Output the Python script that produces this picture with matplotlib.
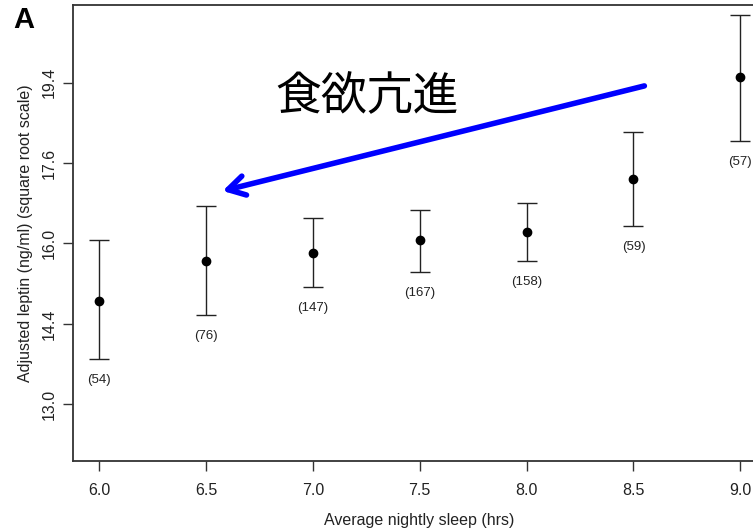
import numpy as np
import matplotlib
matplotlib.use('Agg')
import matplotlib.pyplot as plt

plt.rcParams['font.family'] = ['Liberation Sans', 'DejaVu Sans']

#---
# adjusted leptin by sleep duration (ng/ml)
#---
sleep = [6.0, 6.5, 7.0, 7.5, 8.0, 8.5, 9.0]
leptin = [14.88, 15.66, 15.82, 16.06, 16.23, 17.31, 19.48]
upper = [16.06, 16.76, 16.51, 16.67, 16.81, 18.30, 20.86]
lower = [13.78, 14.61, 15.15, 15.43, 15.65, 16.34, 18.11]
counts = [54, 76, 147, 167, 158, 59, 57]

ytick_vals = [12.96, 14.44, 16.0, 17.64, 19.36]   # 3.6 .. 4.4 on sqrt scale
ytick_labels = ['13.0', '14.4', '16.0', '17.6', '19.4']
xtick_vals = [6.0, 6.5, 7.0, 7.5, 8.0, 8.5, 9.0]

fig = plt.figure(figsize=(7.53, 5.32), dpi=100)
ax = fig.add_axes([73/753., 71/532., 693/753., 456/532.])

ax.set_yscale('function', functions=(np.sqrt, np.square))

lep = np.array(leptin)
err = [lep - np.array(lower), np.array(upper) - lep]
ax.errorbar(sleep, leptin, yerr=err, fmt='o', color='black', ms=6,
            ecolor='#222222', elinewidth=1.0, capsize=7.2, capthick=1.0)

for x, lo, n in zip(sleep, lower, counts):
    ax.annotate('(%d)' % n, xy=(x, lo), xytext=(0, -15),
                textcoords='offset points', ha='center', va='center',
                fontsize=9.5, color='#222222')

ax.set_xlim(5.878, 9.12)
ax.set_ylim(3.459**2, 4.593**2)

ax.set_xticks(xtick_vals)
ax.set_xticklabels(['%.1f' % v for v in xtick_vals], fontsize=11.5, color='#222222')
ax.set_yticks(ytick_vals)
ax.set_yticklabels(ytick_labels, fontsize=11.5, rotation=90, va='center', color='#222222')
ax.minorticks_off()
ax.tick_params(direction='out', length=7, width=1, color='#333333')
ax.tick_params(axis='x', pad=9)
ax.tick_params(axis='y', pad=5)

for s in ['left', 'bottom', 'top', 'right']:
    ax.spines[s].set_color('#333333')
    ax.spines[s].set_linewidth(1.3)

ax.set_xlabel('Average nightly sleep (hrs)', fontsize=11.5, color='#222222', labelpad=11)
ax.set_ylabel('Adjusted leptin (ng/ml) (square root scale)', fontsize=11.5,
              color='#222222', labelpad=6)

#---
# annotation: arrow and label
#---
ax.annotate('', xy=(6.578, 4.1306**2), xytext=(8.551, 4.3918**2),
            arrowprops=dict(arrowstyle='->,head_length=0.6,head_width=0.35',
                            color='#0000ff', lw=4, mutation_scale=20,
                            shrinkA=0, shrinkB=0))
ax.text(7.254, 4.365**2, '食欲亢進', fontsize=33, ha='center', va='center',
        family=['Noto Sans CJK JP', 'DejaVu Sans'], color='black')

fig.text(13/753., 1 - 28/532., 'A', fontsize=21, fontweight='bold',
         ha='left', va='baseline')

plt.savefig('out.png', dpi=100)
